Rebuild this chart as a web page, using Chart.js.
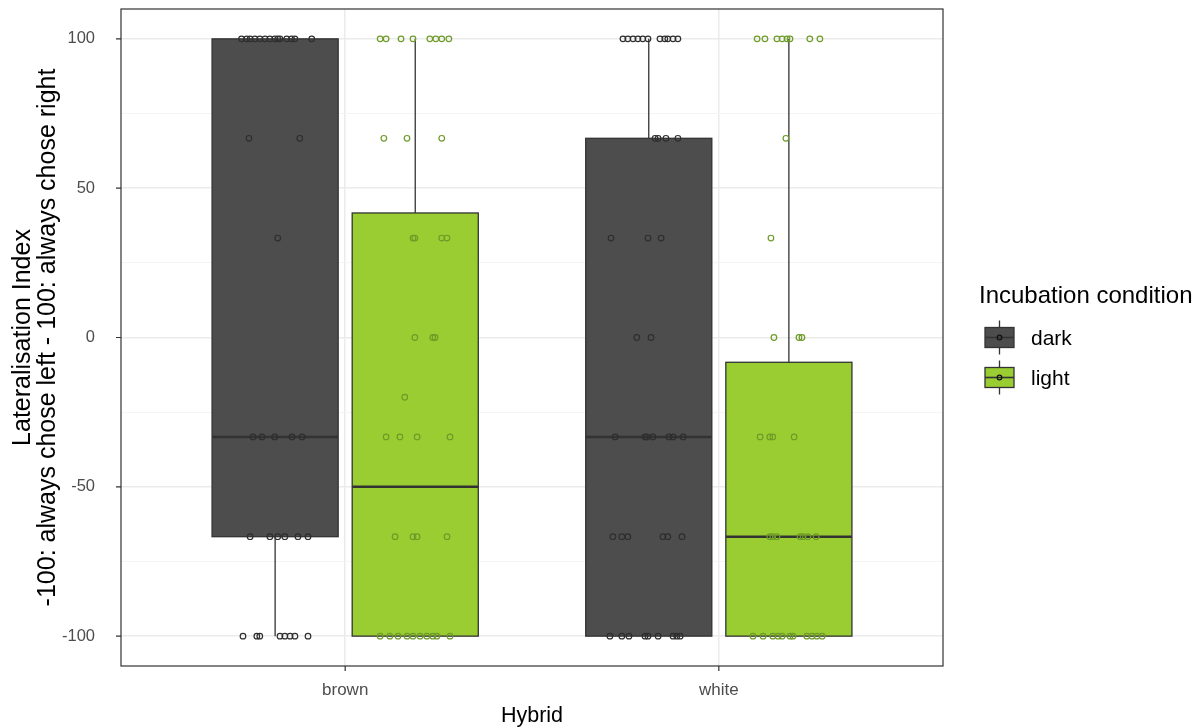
<!DOCTYPE html>
<html>
<head>
<meta charset="utf-8">
<title>Lateralisation Index by Hybrid</title>
<script src="https://cdn.jsdelivr.net/npm/chart.js@4/dist/chart.umd.min.js"></script>
<style>
  html, body { margin: 0; padding: 0; background: #ffffff; }
  #wrap { width: 1196px; height: 728px; position: relative; }
</style>
</head>
<body>
<div id="wrap"><canvas id="chart" width="1196" height="728"></canvas></div>
<script>
// ---- data -------------------------------------------------------------
const categories = ['brown', 'white'];
const conditions = ['dark', 'light'];
const yTickValues = [-100, -75, -50, -25, 0, 25, 50, 75, 100];
const yTickLabels = [-100, -50, 0, 50, 100];

// box statistics per hybrid (brown, white)
const darkLower  = [-100, -100];
const darkQ1     = [-66.7, -100];
const darkMedian = [-33.3, -33.3];
const darkQ3     = [100, 66.7];
const darkUpper  = [100, 100];

const lightLower  = [-100, -100];
const lightQ1     = [-100, -100];
const lightMedian = [-50, -66.7];
const lightQ3     = [41.7, -8.3];
const lightUpper  = [100, 100];

// individual birds: index value and horizontal jitter (in category units)
const brownDarkValues = [
  100, 100, 100, 100, 100, 100, 100, 100, 100, 100, 100, 100, 100, 100,
  66.7, 66.7, 33.3,
  -33.3, -33.3, -33.3, -33.3, -33.3,
  -66.7, -66.7, -66.7, -66.7, -66.7, -66.7,
  -100, -100, -100, -100, -100, -100, -100, -100];
const brownDarkJitter = [
  -0.090, -0.076, -0.067, -0.054, -0.041, -0.027, -0.014, -0.001, 0.007, 0.013, 0.031, 0.044, 0.053, 0.098,
  -0.070, 0.066, 0.007,
  -0.059, -0.035, -0.001, 0.045, 0.072,
  -0.067, -0.014, 0.007, 0.026, 0.061, 0.088,
  -0.086, -0.049, -0.041, 0.013, 0.026, 0.040, 0.053, 0.088];

const brownLightValues = [
  100, 100, 100, 100, 100, 100, 100, 100,
  66.7, 66.7, 66.7,
  33.3, 33.3, 33.3, 33.3,
  0, 0, 0,
  -20,
  -33.3, -33.3, -33.3, -33.3,
  -66.7, -66.7, -66.7, -66.7,
  -100, -100, -100, -100, -100, -100, -100, -100, -100, -100];
const brownLightJitter = [
  -0.094, -0.078, -0.038, -0.006, 0.039, 0.055, 0.071, 0.090,
  -0.084, -0.022, 0.071,
  -0.006, -0.001, 0.071, 0.085,
  -0.001, 0.047, 0.053,
  -0.028,
  -0.078, -0.041, 0.005, 0.093,
  -0.054, -0.006, 0.005, 0.085,
  -0.094, -0.068, -0.046, -0.022, -0.006, 0.013, 0.031, 0.047, 0.058, 0.093];

const whiteDarkValues = [
  100, 100, 100, 100, 100, 100, 100, 100, 100, 100, 100,
  66.7, 66.7, 66.7, 66.7,
  33.3, 33.3, 33.3,
  0, 0,
  -33.3, -33.3, -33.3, -33.3, -33.3, -33.3, -33.3,
  -66.7, -66.7, -66.7, -66.7, -66.7, -66.7,
  -100, -100, -100, -100, -100, -100, -100, -100, -100];
const whiteDarkJitter = [
  -0.069, -0.056, -0.042, -0.029, -0.016, -0.002, 0.030, 0.043, 0.051, 0.065, 0.078,
  0.017, 0.025, 0.046, 0.078,
  -0.101, -0.002, 0.033,
  -0.032, 0.006,
  -0.090, -0.010, -0.005, 0.011, 0.054, 0.065, 0.092,
  -0.096, -0.072, -0.056, 0.038, 0.051, 0.089,
  -0.104, -0.072, -0.053, -0.010, -0.002, 0.025, 0.065, 0.075, 0.084];

const whiteLightValues = [
  100, 100, 100, 100, 100, 100, 100, 100,
  66.7, 33.3,
  0, 0, 0,
  -33.3, -33.3, -33.3, -33.3,
  -66.7, -66.7, -66.7, -66.7, -66.7, -66.7, -66.7,
  -100, -100, -100, -100, -100, -100, -100, -100, -100, -100, -100];
const whiteLightJitter = [
  -0.085, -0.064, -0.032, -0.018, -0.005, 0.003, 0.056, 0.083,
  -0.008, -0.048,
  -0.040, 0.027, 0.035,
  -0.077, -0.051, -0.043, 0.014,
  -0.051, -0.043, -0.032, 0.030, 0.038, 0.051, 0.073,
  -0.096, -0.069, -0.043, -0.029, -0.018, 0.003, 0.011, 0.048, 0.062, 0.075, 0.089];

// ---- appearance -------------------------------------------------------
const FONT = '"Liberation Sans", Arial, sans-serif';
const fillColours  = { dark: '#4D4D4D', light: '#9ACD32' };
const pointColours = { dark: '#2E2E2E', light: '#6E9B28' };
const outline = '#333333';
const DODGE = 0.1875;       // half of the dodge spacing between conditions
const HALF_BOX = 0.16875;   // half box width
const TICK_MARK = 5;        // visible length of axis tick marks

const boxStats = {
  dark:  { lower: darkLower,  q1: darkQ1,  median: darkMedian,  q3: darkQ3,  upper: darkUpper },
  light: { lower: lightLower, q1: lightQ1, median: lightMedian, q3: lightQ3, upper: lightUpper }
};

function toPoints(catIndex, cond, values, jitter) {
  const centre = catIndex + 1 + (cond === 'dark' ? -DODGE : DODGE);
  return values.map((v, i) => ({ x: centre + jitter[i], y: v }));
}

function pointDataset(label, cond, pts) {
  return {
    label: label,
    data: pts,
    pointStyle: 'circle',
    pointRadius: 2.8,
    pointBorderWidth: 1.2,
    pointBorderColor: pointColours[cond],
    pointBackgroundColor: 'rgba(0,0,0,0)',
    pointHoverRadius: 2.8
  };
}

const datasets = [
  pointDataset('brown dark',  'dark',  toPoints(0, 'dark',  brownDarkValues,  brownDarkJitter)),
  pointDataset('brown light', 'light', toPoints(0, 'light', brownLightValues, brownLightJitter)),
  pointDataset('white dark',  'dark',  toPoints(1, 'dark',  whiteDarkValues,  whiteDarkJitter)),
  pointDataset('white light', 'light', toPoints(1, 'light', whiteLightValues, whiteLightJitter))
];

// boxes, medians and whiskers, drawn under the points
const boxPlugin = {
  id: 'boxes',
  beforeDatasetsDraw(chart) {
    const ctx = chart.ctx;
    const xs = chart.scales.x, ys = chart.scales.y;
    ctx.save();
    categories.forEach((cat, i) => {
      conditions.forEach(cond => {
        const s = boxStats[cond];
        const centre = i + 1 + (cond === 'dark' ? -DODGE : DODGE);
        const xc = xs.getPixelForValue(centre);
        const xl = xs.getPixelForValue(centre - HALF_BOX);
        const xr = xs.getPixelForValue(centre + HALF_BOX);
        const yq1 = ys.getPixelForValue(s.q1[i]);
        const yq3 = ys.getPixelForValue(s.q3[i]);
        const ymed = ys.getPixelForValue(s.median[i]);
        const ylo = ys.getPixelForValue(s.lower[i]);
        const yhi = ys.getPixelForValue(s.upper[i]);

        ctx.strokeStyle = outline;
        ctx.lineWidth = 1.3;
        // whiskers
        ctx.beginPath();
        ctx.moveTo(xc, yq3); ctx.lineTo(xc, yhi);
        ctx.moveTo(xc, yq1); ctx.lineTo(xc, ylo);
        ctx.stroke();
        // box
        ctx.fillStyle = fillColours[cond];
        ctx.fillRect(xl, yq3, xr - xl, yq1 - yq3);
        ctx.strokeRect(xl, yq3, xr - xl, yq1 - yq3);
        // median
        ctx.lineWidth = 2.6;
        ctx.beginPath();
        ctx.moveTo(xl, ymed); ctx.lineTo(xr, ymed);
        ctx.stroke();
      });
    });
    ctx.restore();
  }
};

// panel frame and short tick marks, on top of everything in the panel
const framePlugin = {
  id: 'frame',
  afterDatasetsDraw(chart) {
    const a = chart.chartArea, ctx = chart.ctx;
    const xs = chart.scales.x, ys = chart.scales.y;
    ctx.save();
    ctx.strokeStyle = outline;
    ctx.lineWidth = 1.2;
    ctx.strokeRect(a.left, a.top, a.right - a.left, a.bottom - a.top);
    ctx.beginPath();
    yTickLabels.forEach(v => {
      const y = ys.getPixelForValue(v);
      ctx.moveTo(a.left - TICK_MARK, y); ctx.lineTo(a.left, y);
    });
    categories.forEach((c, i) => {
      const x = xs.getPixelForValue(i + 1);
      ctx.moveTo(x, a.bottom); ctx.lineTo(x, a.bottom + TICK_MARK);
    });
    ctx.stroke();
    ctx.restore();
  }
};

// legend for incubation condition
const legendPlugin = {
  id: 'conditionLegend',
  afterDraw(chart) {
    const ctx = chart.ctx;
    ctx.save();
    ctx.fillStyle = '#000000';
    ctx.font = '24px ' + FONT;
    ctx.textAlign = 'left';
    ctx.textBaseline = 'middle';
    ctx.fillText('Incubation condition', 979, 296);
    conditions.forEach((cond, k) => {
      const cy = 337.5 + k * 40;
      const x0 = 985, w = 29, h = 20;
      ctx.strokeStyle = outline;
      ctx.lineWidth = 1.3;
      ctx.beginPath();
      ctx.moveTo(x0 + w / 2, cy - 17); ctx.lineTo(x0 + w / 2, cy - h / 2);
      ctx.moveTo(x0 + w / 2, cy + h / 2); ctx.lineTo(x0 + w / 2, cy + 17);
      ctx.stroke();
      ctx.fillStyle = fillColours[cond];
      ctx.fillRect(x0, cy - h / 2, w, h);
      ctx.strokeRect(x0, cy - h / 2, w, h);
      ctx.lineWidth = 1.6;
      ctx.beginPath();
      ctx.moveTo(x0, cy); ctx.lineTo(x0 + w, cy);
      ctx.stroke();
      ctx.lineWidth = 1.2;
      ctx.strokeStyle = '#111111';
      ctx.beginPath();
      ctx.arc(x0 + w / 2, cy, 2.3, 0, Math.PI * 2);
      ctx.stroke();
      ctx.fillStyle = '#000000';
      ctx.font = '21px ' + FONT;
      ctx.fillText(cond, 1031, cy + 1.5);
    });
    ctx.restore();
  }
};

new Chart(document.getElementById('chart').getContext('2d'), {
  type: 'scatter',
  data: { datasets: datasets },
  options: {
    responsive: false,
    animation: false,
    events: [],
    layout: { padding: { top: 9, right: 253, left: 0, bottom: 0 } },
    plugins: { legend: { display: false }, tooltip: { enabled: false } },
    scales: {
      x: {
        type: 'linear',
        min: 0.4,
        max: 2.6,
        afterBuildTicks: s => { s.ticks = categories.map((c, i) => ({ value: i + 1 })); },
        afterFit: s => { s.height = 62; },
        ticks: {
          callback: v => categories[Math.round(v) - 1],
          font: { family: FONT, size: 17 },
          color: '#4D4D4D',
          padding: 9,
          maxRotation: 0,
          autoSkip: false
        },
        grid: { color: '#EBEBEB', lineWidth: 1.5, tickColor: 'rgba(0,0,0,0)', tickLength: 5, drawTicks: true },
        border: { display: false },
        title: {
          display: true,
          text: 'Hybrid',
          color: '#000000',
          font: { family: FONT, size: 21.5 },
          padding: { top: 0, bottom: -1 }
        }
      },
      y: {
        type: 'linear',
        min: -110,
        max: 110,
        afterBuildTicks: s => { s.ticks = yTickValues.map(v => ({ value: v })); },
        afterFit: s => { s.width = 121; },
        ticks: {
          callback: v => (yTickLabels.includes(v) ? String(v) : ''),
          font: { family: FONT, size: 16.5, lineHeight: 0.4 },
          color: '#4D4D4D',
          padding: 3,
          autoSkip: false
        },
        grid: {
          color: c => (yTickLabels.includes(c.tick.value) ? '#EBEBEB' : '#F4F4F4'),
          lineWidth: c => (yTickLabels.includes(c.tick.value) ? 1.5 : 1),
          tickColor: 'rgba(0,0,0,0)',
          tickLength: 23,
          drawTicks: true
        },
        border: { display: false },
        title: {
          display: true,
          text: ['Lateralisation Index', '-100: always chose left - 100: always chose right'],
          color: '#000000',
          font: { family: FONT, size: 25, lineHeight: '25px' },
          padding: { top: 10.5, bottom: 0 }
        }
      }
    }
  },
  plugins: [boxPlugin, framePlugin, legendPlugin]
});
</script>
</body>
</html>
